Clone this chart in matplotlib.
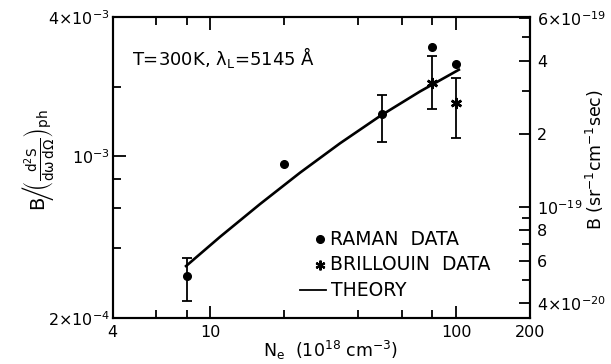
import matplotlib
matplotlib.use("Agg")
import matplotlib.pyplot as plt
from matplotlib.ticker import FixedLocator, FixedFormatter, NullFormatter

# ---- data ----
raman_x = [8, 20, 50, 80, 100]
raman_y = [3.04e-4, 9.26e-4, 1.52e-3, 2.96e-3, 2.50e-3]
raman_err_x = [8, 50]
raman_err_y = [3.04e-4, 1.52e-3]
raman_err_lo = [2.37e-4, 1.15e-3]
raman_err_hi = [3.65e-4, 1.84e-3]

brill_x = [80, 100]
brill_y = [2.08e-3, 1.695e-3]
brill_lo = [1.60e-3, 1.196e-3]
brill_hi = [2.70e-3, 2.19e-3]

theory_x = [7.88, 10.94, 15.9, 23.15, 33.7, 49.0, 71.3, 103.8]
theory_y = [3.325e-4, 4.485e-4, 6.21e-4, 8.49e-4, 1.138e-3, 1.492e-3, 1.906e-3, 2.382e-3]

x_major = [4, 10, 100, 200]
x_major_labels = ["4", "10", "100", "200"]
x_minor = [6, 8, 20, 40, 60, 80]

yl_major = [2e-4, 1e-3, 4e-3]
yl_major_labels = [r"$2{\times}10^{-4}$", r"$10^{-3}$", r"$4{\times}10^{-3}$"]
yl_minor = [4e-4, 6e-4, 8e-4, 2e-3]

yr_major = [4e-20, 6e-20, 8e-20, 1e-19, 2e-19, 4e-19, 6e-19]
yr_major_labels = [r"$4{\times}10^{-20}$", "6", "8", r"$10^{-19}$", "2", "4", r"$6{\times}10^{-19}$"]
yr_minor = [5e-20, 7e-20, 9e-20, 3e-19, 5e-19]

plt.rcParams['font.family'] = ['DejaVu Sans']
plt.rcParams['mathtext.fontset'] = 'dejavusans'
plt.rcParams['mathtext.default'] = 'regular'

fig = plt.figure(figsize=(6.11, 3.64), dpi=100)
ax = fig.add_axes([0.1845, 0.1264, 0.6829, 0.8269])
ax.set_xscale('log')
ax.set_yscale('log')
ax.set_xlim(4, 200)
ax.set_ylim(2e-4, 4e-3)

lw_sp = 1.5
for s in ax.spines.values():
    s.set_linewidth(lw_sp)

ax.xaxis.set_major_locator(FixedLocator(x_major))
ax.xaxis.set_major_formatter(FixedFormatter(x_major_labels))
ax.xaxis.set_minor_locator(FixedLocator(x_minor))
ax.xaxis.set_minor_formatter(NullFormatter())
ax.yaxis.set_major_locator(FixedLocator(yl_major))
ax.yaxis.set_major_formatter(FixedFormatter(yl_major_labels))
ax.yaxis.set_minor_locator(FixedLocator(yl_minor))
ax.yaxis.set_minor_formatter(NullFormatter())

ax.tick_params(which='both', direction='in', top=True, right=False, width=1.3,
               color='black')
ax.tick_params(which='major', length=9)
ax.tick_params(which='minor', length=6)
ax.tick_params(axis='y', pad=2, labelsize=11.5)
ax.tick_params(axis='x', pad=5, labelsize=11.5)

# theory line
ax.plot(theory_x, theory_y, color='black', lw=1.9, solid_capstyle='butt')

# raman
ax.plot(raman_x, raman_y, 'o', color='black', ms=5.5)
ax.errorbar(raman_err_x, raman_err_y,
            yerr=[[a - b for a, b in zip(raman_err_y, raman_err_lo)],
                  [b - a for a, b in zip(raman_err_y, raman_err_hi)]],
            fmt='none', ecolor='black', elinewidth=1.3, capsize=3.3, capthick=1.3)

# brillouin
ax.errorbar(brill_x, brill_y,
            yerr=[[a - b for a, b in zip(brill_y, brill_lo)],
                  [b - a for a, b in zip(brill_y, brill_hi)]],
            fmt='none', ecolor='black', elinewidth=1.3, capsize=3.3, capthick=1.3)
ax.plot(brill_x, brill_y, linestyle='none', marker=(6, 2, 0), color='black',
        ms=8, mew=1.8)

# annotation
ax.text(0.045, 0.865, r"T=300K, $\lambda_L$=5145 Å", transform=ax.transAxes,
        fontsize=13, va='center', ha='left')

# legend (manual)
ax.plot([0.496], [0.261], 'o', color='black', ms=5.5, transform=ax.transAxes, clip_on=False)
ax.text(0.520, 0.261, "RAMAN  DATA", transform=ax.transAxes, fontsize=13.5, va='center')
ax.plot([0.496], [0.176], linestyle='none', marker=(6, 2, 0), color='black', ms=7, mew=1.6,
        transform=ax.transAxes)
ax.text(0.520, 0.177, "BRILLOUIN  DATA", transform=ax.transAxes, fontsize=13.5, va='center')
ax.plot([0.449, 0.511], [0.093, 0.093], color='black', lw=1.3, transform=ax.transAxes)
ax.text(0.523, 0.091, "THEORY", transform=ax.transAxes, fontsize=13.5, va='center')

# axis labels placed in figure coordinates
fig.text(331 / 611, 1 - 350 / 364, r"N$_e$  (10$^{18}$ cm$^{-3}$)", fontsize=12.5,
         ha='center', va='center')
fig.text(38 / 611, 1 - 160 / 364,
         r"$B\!\left/\!\left(\frac{d^2S}{d\omega\, d\Omega}\right)_{ph}\right.$",
         fontsize=14, rotation=90, ha='center', va='center')

# right axis
ax2 = ax.twinx()
ax2.set_yscale('log')
ax2.set_ylim(3.48e-20, 6.07e-19)
for s in ax2.spines.values():
    s.set_linewidth(lw_sp)
ax2.yaxis.set_major_locator(FixedLocator(yr_major))
ax2.yaxis.set_major_formatter(FixedFormatter(yr_major_labels))
ax2.yaxis.set_minor_locator(FixedLocator(yr_minor))
ax2.yaxis.set_minor_formatter(NullFormatter())
ax2.tick_params(which='both', direction='in', width=1.3, labelsize=11.5, pad=5)
ax2.tick_params(which='major', length=8)
ax2.tick_params(which='minor', length=6)
fig.text(595 / 611, 1 - 160 / 364, r"B (sr$^{-1}$cm$^{-1}$sec)", fontsize=12.5,
         rotation=90, ha='center', va='center')

fig.savefig("out.png", dpi=100)
